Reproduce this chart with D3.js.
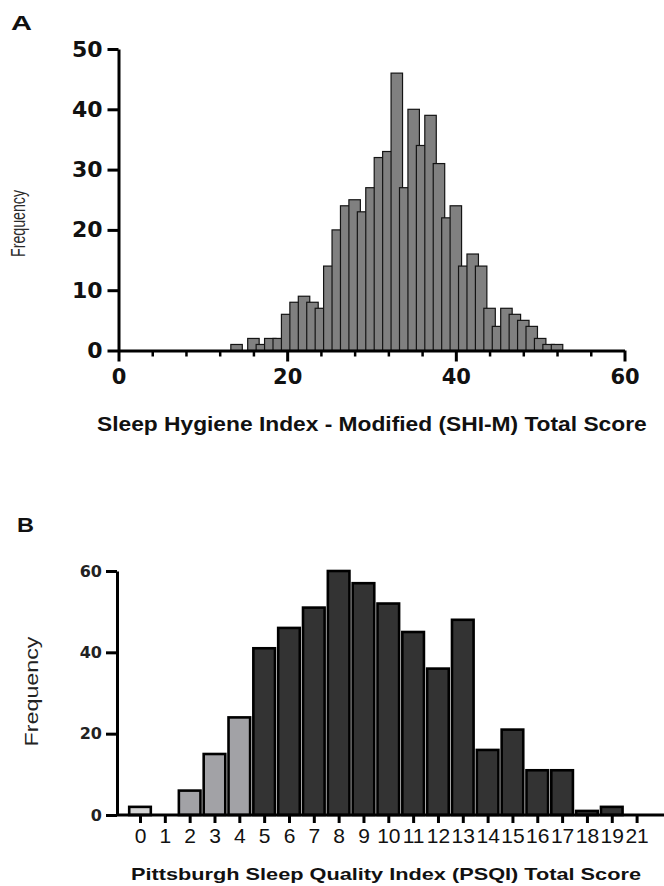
<!DOCTYPE html>
<html>
<head>
<meta charset="utf-8">
<script src="https://cdn.jsdelivr.net/npm/d3@7"></script>
<style>
  body { margin: 0; background: #fff; }
  svg text { font-family: "Liberation Sans", Arial, sans-serif; }
</style>
</head>
<body>
<div id="chart"></div>
<script>
'use strict';

// panel A : SHI-M total score histogram (bin centre -> count)
const shiScores = [14,15,16,17,18,19,20,21,22,23,24,25,26,27,28,29,30,31,32,33,
                   34,35,36,37,38,39,40,41,42,43,44,45,46,47,48,49,50,51,52];
const shiCounts = [1,0,2,1,2,2,6,8,9,8,7,14,20,24,25,23,27,32,33,46,
                   27,40,34,39,31,22,24,14,16,14,7,4,7,6,5,4,2,1,1];
const shiYTicks = [0,10,20,30,40,50];
const shiXMajor = [0,20,40,60];
const shiXMinor = [4,8,12,16,24,28,32,36,44,48,52,56];

// panel B : PSQI total score (category -> count)
const psqiLabels = ["0","1","2","3","4","5","6","7","8","9","10",
                    "11","12","13","14","15","16","17","18","19","21"];
const psqiCounts = [2,0,6,15,24,41,46,51,60,57,52,45,36,48,16,21,11,11,1,2,0];
const psqiYTicks = [0,20,40,60];

const W = 664, H = 886;

var svg = d3.select("#chart").append("svg")
    .attr("width", W)
    .attr("height", H);

// text squeezed / stretched along its run to a given length
function label(g, txt, x, y, rot, size, weight, fill, len) {
    var t = g.append("text")
        .style("font-size", size + "px")
        .style("font-weight", weight)
        .attr("fill", fill)
        .attr("text-anchor", rot ? "middle" : "start")
        .text(txt);
    var k = len / t.node().getComputedTextLength();
    t.attr("transform", "translate(" + x + "," + y + ")" + (rot ? " rotate(-90)" : "") + " scale(" + k + ",1)");
    return t;
}

// ---------------- panel A ----------------
var xA = d3.scaleLinear().domain([0, 60]).range([118.5, 624.5]);
var yA = d3.scaleLinear().domain([0, 50]).range([350.5, 49]);
var binW = 1.36;

var gA = svg.append("g");

gA.selectAll("rect.shi")
    .data(shiScores.map((s, i) => ({score: s, count: shiCounts[i]})).filter(d => d.count > 0))
    .enter().append("rect")
    .attr("class", "shi")
    .attr("x", d => xA(d.score - binW / 2))
    .attr("width", d => xA(d.score + binW / 2) - xA(d.score - binW / 2))
    .attr("y", d => yA(d.count))
    .attr("height", d => yA(0) - yA(d.count))
    .attr("fill", "#808080")
    .attr("stroke", "#141414")
    .attr("stroke-width", 1.2);

// minor ticks on x
gA.append("g")
    .attr("transform", "translate(0," + yA(0) + ")")
    .call(d3.axisBottom(xA).tickValues(shiXMinor).tickSize(6).tickFormat(""))
    .call(g => g.select(".domain").remove())
    .selectAll("line").attr("stroke", "#000").attr("stroke-width", 2.5);

var axAx = gA.append("g")
    .attr("transform", "translate(0," + yA(0) + ")")
    .call(d3.axisBottom(xA).tickValues(shiXMajor).tickSize(11).tickSizeOuter(0).tickPadding(8));
axAx.select(".domain").attr("stroke", "#000").attr("stroke-width", 3);
axAx.selectAll("line").attr("stroke", "#000").attr("stroke-width", 3);
axAx.selectAll("text")
    .style("font-family", "'DejaVu Sans', sans-serif")
    .style("font-weight", "bold")
    .style("font-size", "21px")
    .attr("fill", "#111");

var axAy = gA.append("g")
    .attr("transform", "translate(" + xA(0) + ",0)")
    .call(d3.axisLeft(yA).tickValues(shiYTicks).tickSize(11).tickSizeOuter(0).tickPadding(5));
axAy.select(".domain").attr("stroke", "#000").attr("stroke-width", 3);
axAy.selectAll("line").attr("stroke", "#000").attr("stroke-width", 3);
axAy.selectAll("text")
    .style("font-family", "'DejaVu Sans', sans-serif")
    .style("font-weight", "bold")
    .style("font-size", "22px")
    .attr("fill", "#111");

label(gA, "Frequency", 24.5, 223.5, true, 20, "normal", "#2a2a2a", 67);
label(gA, "Sleep Hygiene Index - Modified (SHI-M) Total Score", 97, 430.5, false, 21, "bold", "#111", 550);
label(gA, "A", 11, 30, false, 21, "bold", "#111", 21);

// ---------------- panel B ----------------
var xB = d3.scalePoint().domain(psqiLabels).range([140, 636.6]);
var yB = d3.scaleLinear().domain([0, 60]).range([815, 571]);
var barW = xB.step() * 0.87;
var shade = d3.scaleThreshold().domain([1, 5]).range(["#d3d3d3", "#a2a2a6", "#333333"]);

var gB = svg.append("g");

gB.selectAll("rect.psqi")
    .data(psqiLabels.map((l, i) => ({label: l, count: psqiCounts[i], score: +l})).filter(d => d.count > 0))
    .enter().append("rect")
    .attr("class", "psqi")
    .attr("x", d => xB(d.label) - barW / 2)
    .attr("width", barW)
    .attr("y", d => yB(d.count))
    .attr("height", d => yB(0) - yB(d.count))
    .attr("fill", d => shade(d.score))
    .attr("stroke", "#000")
    .attr("stroke-width", 2.6);

// x axis line runs past the last category
gB.append("line")
    .attr("x1", 117).attr("x2", 664)
    .attr("y1", yB(0)).attr("y2", yB(0))
    .attr("stroke", "#000").attr("stroke-width", 3);

var axBx = gB.append("g")
    .attr("transform", "translate(0," + yB(0) + ")")
    .call(d3.axisBottom(xB).tickSize(8).tickSizeOuter(0).tickPadding(5));
axBx.select(".domain").remove();
axBx.selectAll("line").attr("stroke", "#000").attr("stroke-width", 3);
axBx.selectAll("text")
    .style("font-size", "21px")
    .attr("fill", "#111");

var axBy = gB.append("g")
    .attr("transform", "translate(117,0)")
    .call(d3.axisLeft(yB).tickValues(psqiYTicks).tickSize(11).tickSizeOuter(0).tickPadding(4));
axBy.select(".domain").attr("stroke", "#000").attr("stroke-width", 3);
axBy.selectAll("line").attr("stroke", "#000").attr("stroke-width", 3);
axBy.selectAll("text")
    .style("font-family", "'DejaVu Sans', sans-serif")
    .style("font-weight", "bold")
    .style("font-size", "16px")
    .attr("fill", "#222");

label(gB, "Frequency", 37.5, 691.5, true, 18, "normal", "#222", 110);
label(gB, "Pittsburgh Sleep Quality Index (PSQI) Total Score", 131, 880, false, 17, "bold", "#111", 510);
label(gB, "B", 17, 531.5, false, 21, "bold", "#111", 17);
</script>
</body>
</html>
